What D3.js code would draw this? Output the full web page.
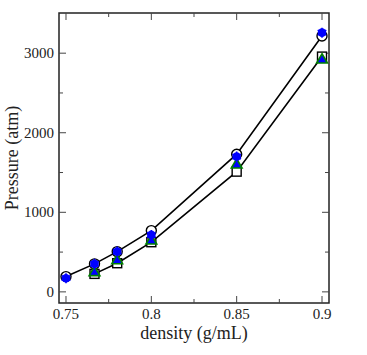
<!DOCTYPE html>
<html>
<head>
<meta charset="utf-8">
<script src="https://cdn.jsdelivr.net/npm/d3@7"></script>
<style>
  body { margin: 0; background: #fff; }
  svg { display: block; }
  text { font-family: "Liberation Serif", "DejaVu Serif", serif; fill: #222; }
</style>
</head>
<body>
<svg id="chart" width="367" height="355"></svg>
<script>
// density values (g/mL)
const density = [0.75, 0.7667, 0.78, 0.8, 0.85, 0.9]
const densityLow = [0.7667, 0.78, 0.8, 0.85, 0.9]

// pressure (atm)
const circleP = [192, 352, 506, 770, 1730, 3216]
const squareP = [226, 360, 624, 1511, 2957]
const starP = [172, 352, 506, 716, 1700, 3258]
const triangleP = [243, 393, 640, 1595, 2915]

const xTicks = [0.75, 0.8, 0.85, 0.9]
const xMinor = [0.775, 0.825, 0.875]
const yTicks = [0, 1000, 2000, 3000]
const yMinor = [500, 1500, 2500]

const margin = { left: 59, top: 13, right: 38, bottom: 52 }
const width = 367, height = 355
const svg = d3.select('#chart')
const g = svg.append('g')

const x = d3.scaleLinear()
  .domain([0.7459, 0.9041])
  .range([margin.left, width - margin.right])

const y = d3.scaleLinear()
  .domain([-140, 3505])
  .range([height - margin.bottom, margin.top])

const x0 = x.range()[0], x1 = x.range()[1]
const y0 = y.range()[0], y1 = y.range()[1]

// frame
g.append('rect')
  .attr('x', x0).attr('y', y1)
  .attr('width', x1 - x0).attr('height', y0 - y1)
  .attr('fill', 'none').attr('stroke', '#222').attr('stroke-width', 1.5)

// ticks, inward on all four sides
function ticks(vals, len) {
  vals.forEach(v => {
    g.append('line').attr('x1', x(v)).attr('x2', x(v)).attr('y1', y0).attr('y2', y0 - len)
      .attr('stroke', '#444').attr('stroke-width', 1)
    g.append('line').attr('x1', x(v)).attr('x2', x(v)).attr('y1', y1).attr('y2', y1 + len)
      .attr('stroke', '#444').attr('stroke-width', 1)
  })
}
function yticks(vals, len) {
  vals.forEach(v => {
    g.append('line').attr('y1', y(v)).attr('y2', y(v)).attr('x1', x0).attr('x2', x0 + len)
      .attr('stroke', '#444').attr('stroke-width', 1)
    g.append('line').attr('y1', y(v)).attr('y2', y(v)).attr('x1', x1).attr('x2', x1 - len)
      .attr('stroke', '#444').attr('stroke-width', 1)
  })
}
ticks(xTicks, 7)
ticks(xMinor, 4)
yticks(yTicks, 7)
yticks(yMinor, 4)

// tick labels
g.selectAll('text.xl').data(xTicks).enter().append('text')
  .attr('x', d => x(d)).attr('y', y0 + 16)
  .attr('text-anchor', 'middle')
  .style('font-size', '15px')
  .text(d => d3.format('')(d))

g.selectAll('text.yl').data(yTicks).enter().append('text')
  .attr('x', x0 - 5).attr('y', d => y(d) + 5)
  .attr('text-anchor', 'end')
  .style('font-size', '15px')
  .text(d => d)

// axis titles
g.append('text')
  .attr('x', (x0 + x1) / 2).attr('y', y0 + 36)
  .attr('text-anchor', 'middle')
  .style('font-size', '18px')
  .text('density (g/mL)')

g.append('text')
  .attr('transform', `translate(18, ${(y0 + y1) / 2}) rotate(-90)`)
  .attr('text-anchor', 'middle')
  .style('font-size', '18px')
  .text('Pressure (atm)')

// lines
const line = d3.line().x(d => x(d[0])).y(d => y(d[1]))
g.append('path')
  .attr('d', line(d3.zip(density, circleP)))
  .attr('fill', 'none').attr('stroke', '#000').attr('stroke-width', 1.6)
g.append('path')
  .attr('d', line(d3.zip(densityLow, squareP)))
  .attr('fill', 'none').attr('stroke', '#000').attr('stroke-width', 1.6)

// open circles
g.selectAll('circle.c').data(d3.zip(density, circleP)).enter().append('circle')
  .attr('cx', d => x(d[0])).attr('cy', d => y(d[1])).attr('r', 5)
  .attr('fill', '#fff').attr('stroke', '#000').attr('stroke-width', 1.4)

// open squares
g.selectAll('rect.s').data(d3.zip(densityLow, squareP)).enter().append('rect')
  .attr('x', d => x(d[0]) - 4.5).attr('y', d => y(d[1]) - 4.5)
  .attr('width', 9).attr('height', 9)
  .attr('fill', '#fff').attr('stroke', '#000').attr('stroke-width', 1.4)

// triangles, green edge, blue fill
const tri = d3.symbol().type(d3.symbolTriangle).size(50)
g.selectAll('path.t').data(d3.zip(densityLow, triangleP)).enter().append('path')
  .attr('d', tri)
  .attr('transform', d => `translate(${x(d[0])}, ${y(d[1])})`)
  .attr('fill', '#0000ff').attr('stroke', '#008000').attr('stroke-width', 1.6)

// blue stars
const star = d3.symbol().type(d3.symbolAsterisk).size(70)
const stars = g.selectAll('g.st').data(d3.zip(density, starP)).enter().append('g')
  .attr('transform', d => `translate(${x(d[0])}, ${y(d[1])})`)
stars.append('circle').attr('r', 4.3).attr('fill', '#0000ff')
stars.append('path').attr('d', star).attr('stroke', '#0000ff').attr('stroke-width', 1.5).attr('fill', 'none')
</script>
</body>
</html>
